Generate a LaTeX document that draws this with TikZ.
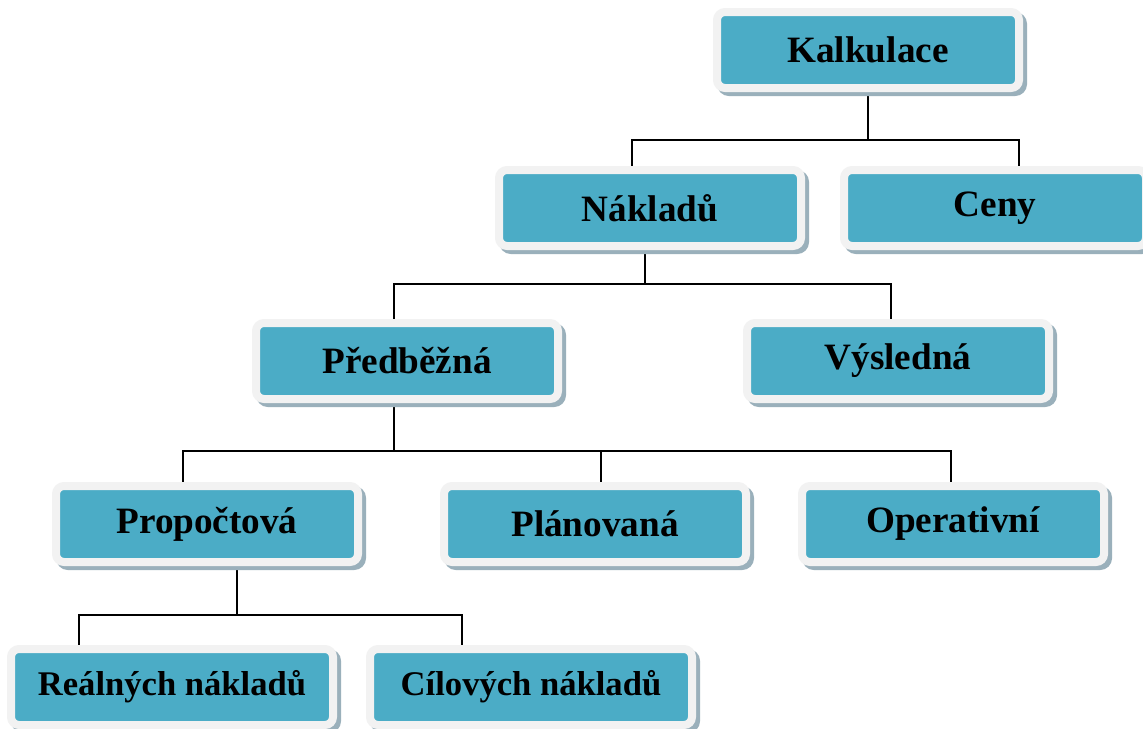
\documentclass[tikz,border=0pt]{standalone}
\usepackage{fontspec}
\setmainfont{Liberation Serif}
\usetikzlibrary{shadows,backgrounds}
\definecolor{boxfill}{HTML}{4BACC6}
\definecolor{boxrim}{HTML}{F2F2F2}
\definecolor{boxshade}{HTML}{9AB0BB}

\begin{document}
\begin{tikzpicture}[x=0.5pt,y=-0.5pt,
    box/.style={rectangle, rounded corners=4pt, fill=boxfill, draw=boxrim, line width=4pt,
        minimum width=151pt, minimum height=38pt, inner sep=0pt,
        font=\fontsize{18.6}{22}\selectfont\bfseries,
        general shadow={shadow xshift=2pt, shadow yshift=-2pt, fill=boxshade, draw=boxshade, line width=4pt}},
    widebox/.style={box, minimum width=161pt, font=\fontsize{17.3}{20}\selectfont\bfseries},
    conn/.style={draw=black, line width=1pt}]
    \useasboundingbox (0,0) rectangle (1143,728);
    \node[box] (kalk) at (868,50) {Kalkulace};
    \node[box] (nakl) at (650,208) {Nákladů};
    \node[box] (ceny) at (995,208) {Ceny};
    \node[box] (pred) at (407,361) {Předběžná};
    \node[box] (vysl) at (898,361) {Výsledná};
    \node[box] (prop) at (207,524) {Propočtová};
    \node[box] (plan) at (595,524) {Plánovaná};
    \node[box] (oper) at (953,524) {Operativní};
    \node[widebox] (real) at (172,687) {Reálných nákladů};
    \node[widebox] (cil) at (531,687) {Cílových nákladů};
    \begin{scope}[on background layer]
        \draw[conn] (kalk.south) -- ++(0,48) coordinate (j1);
        \draw[conn] ([xshift=-9pt]nakl.north) |- (j1) -| ([xshift=12pt]ceny.north);
        \draw[conn] ([xshift=-2.5pt]nakl.south) -- ++(0,34) coordinate (j2);
        \draw[conn] ([xshift=-6.5pt]pred.north) |- (j2) -| ([xshift=-3.5pt]vysl.north);
        \draw[conn] ([xshift=-6.5pt]pred.south) -- ++(0,48) coordinate (j3);
        \draw[conn] ([xshift=-12pt]prop.north) |- (j3) -| ([xshift=-1pt]oper.north);
        \draw[conn] ([xshift=3pt]plan.north) -- ([xshift=3pt]plan.north |- j3);
        \draw[conn] ([xshift=15pt]prop.south) -- ++(0,49) coordinate (j4);
        \draw[conn] ([xshift=-46.5pt]real.north) |- (j4) -| ([xshift=-34.5pt]cil.north);
    \end{scope}
\end{tikzpicture}
\end{document}
